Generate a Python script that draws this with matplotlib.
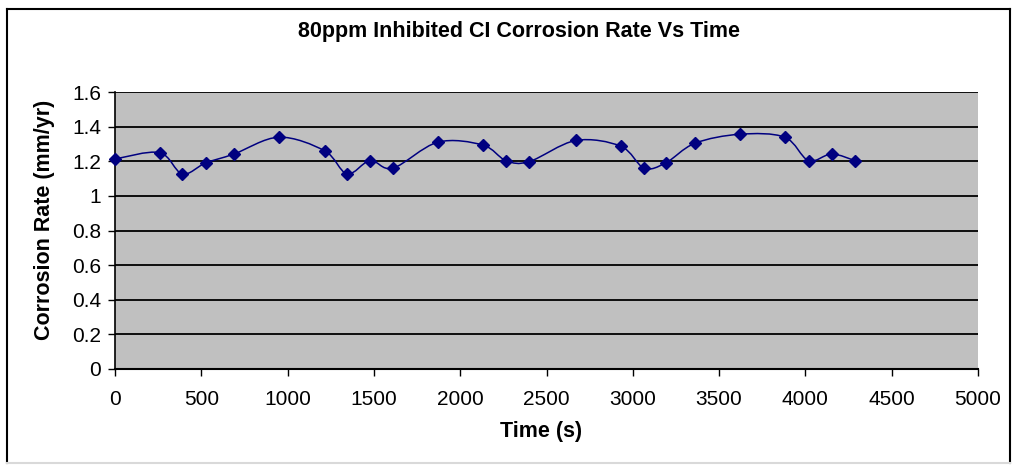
import matplotlib.pyplot as plt
from matplotlib.path import Path
from matplotlib.patches import PathPatch
from matplotlib.lines import Line2D

time_s = [0, 258, 390, 525, 690, 950, 1215, 1345, 1478, 1610, 1870, 2130,
          2265, 2400, 2670, 2930, 3065, 3190, 3360, 3620, 3880, 4018, 4152, 4286]
rate = [1.213, 1.25, 1.127, 1.19, 1.242, 1.339, 1.26, 1.127, 1.204, 1.16, 1.31, 1.294,
        1.204, 1.198, 1.32, 1.287, 1.161, 1.19, 1.304, 1.356, 1.339, 1.204, 1.242, 1.204]

xticks = [0, 500, 1000, 1500, 2000, 2500, 3000, 3500, 4000, 4500, 5000]
yticks = [0, 0.2, 0.4, 0.6, 0.8, 1, 1.2, 1.4, 1.6]
ytick_labels = ['0', '0.2', '0.4', '0.6', '0.8', '1', '1.2', '1.4', '1.6']

plt.rcParams['font.family'] = ['Liberation Sans', 'DejaVu Sans']

navy = '#000080'
W, H = 1014, 466

fig = plt.figure(figsize=(W / 100, H / 100), dpi=100)
# outer chart frame
for (x0, y0, x1, y1, c) in [(7, 9, 7, 463, 'black'), (7, 9, 1010, 9, 'black'),
                            (1010, 9, 1010, 463, 'black'), (7, 463, 1010, 463, '#d9d9d9')]:
    fig.add_artist(Line2D([x0 / W, x1 / W], [1 - y0 / H, 1 - y1 / H],
                          transform=fig.transFigure, color=c, linewidth=1.5))

ax = fig.add_axes([115 / W, 1 - 369 / H, 863 / W, 277 / H])
ax.set_facecolor('#C0C0C0')
ax.set_xlim(0, 5000)
ax.set_ylim(0, 1.6)

for y in yticks[1:]:
    ax.axhline(y, color='black', linewidth=1.3, zorder=1)

# smoothed line like Excel (bezier through points)
verts = [(time_s[0], rate[0])]
codes = [Path.MOVETO]
n = len(time_s)
for i in range(n - 1):
    p0 = (time_s[max(i - 1, 0)], rate[max(i - 1, 0)])
    p1 = (time_s[i], rate[i])
    p2 = (time_s[i + 1], rate[i + 1])
    p3 = (time_s[min(i + 2, n - 1)], rate[min(i + 2, n - 1)])
    c1 = (p1[0] + (p2[0] - p0[0]) / 6, p1[1] + (p2[1] - p0[1]) / 6)
    c2 = (p2[0] - (p3[0] - p1[0]) / 6, p2[1] - (p3[1] - p1[1]) / 6)
    verts += [c1, c2, p2]
    codes += [Path.CURVE4] * 3
ax.add_patch(PathPatch(Path(verts, codes), facecolor='none', edgecolor=navy,
                       linewidth=1.1, zorder=3))
ax.plot(time_s, rate, linestyle='none', marker='D', markersize=6,
        color=navy, zorder=4, clip_on=False)

ax.set_xticks(xticks)
ax.set_yticks(yticks)
ax.set_yticklabels(ytick_labels)
ax.tick_params(axis='both', direction='out', length=5, width=1, labelsize=15, colors='black')
ax.tick_params(axis='x', pad=10)
ax.tick_params(axis='y', pad=5)
for s in ['top', 'right']:
    ax.spines[s].set_visible(False)
ax.spines['left'].set_linewidth(1.2)
ax.spines['bottom'].set_linewidth(1.5)

fig.text(519 / W, 1 - 32 / H, '80ppm Inhibited CI Corrosion Rate Vs Time', fontsize=15.5,
         fontweight='bold', ha='center', va='center')
fig.text(541 / W, 1 - 432 / H, 'Time (s)', fontsize=15.5, fontweight='bold',
         ha='center', va='center')
fig.text(45 / W, 1 - 220 / H, 'Corrosion Rate (mm/yr)', fontsize=15.5, fontweight='bold',
         rotation=90, ha='center', va='center')

fig.savefig('out.png', dpi=100)
